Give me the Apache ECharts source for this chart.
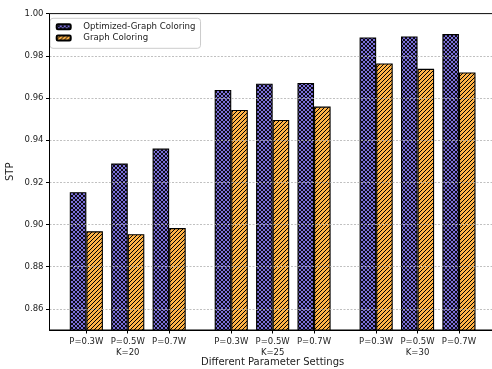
<!DOCTYPE html>
<html>
<head>
<meta charset="utf-8">
<script src="https://cdn.jsdelivr.net/npm/echarts@6/dist/echarts.min.js"></script>
<style>html,body{margin:0;padding:0;background:#fff}#c{width:492px;height:369px}</style>
</head>
<body>
<div id="c"></div>
<script>
// ---- data ----
const groupLabels = ['K=20', 'K=25', 'K=30'];
const powerLabels = ['P=0.3W', 'P=0.5W', 'P=0.7W'];
const optimizedSTP = [0.9153, 0.9289, 0.9360, 0.9638, 0.9668, 0.9671, 0.9887, 0.9892, 0.9903];
const baselineSTP  = [0.8968, 0.8954, 0.8983, 0.9543, 0.9496, 0.9559, 0.9764, 0.9738, 0.9721];
const yTickValues  = [0.86, 0.88, 0.90, 0.92, 0.94, 0.96, 0.98, 1.00];
const seriesNames  = ['Optimized-Graph Coloring', 'Graph Coloring'];

// ---- layout: groups of 3 with 1.5-unit step between groups ----
const groupStep = 3.5;
const positions = [];
const tickText = {};
groupLabels.forEach((g, gi) => {
  powerLabels.forEach((p, pi) => {
    const x = gi * groupStep + pi;
    positions.push(x);
    tickText[x] = pi === 1 ? p + '\n' + g : p;
  });
});

function hatch(base, kind, s, lw) {
  const c = document.createElement('canvas');
  c.width = s; c.height = s;
  const ctx = c.getContext('2d');
  ctx.fillStyle = base;
  ctx.fillRect(0, 0, s, s);
  ctx.strokeStyle = '#000';
  ctx.lineWidth = lw;
  ctx.beginPath();
  ctx.moveTo(-1, s + 1); ctx.lineTo(s + 1, -1);
  ctx.moveTo(-1, 1); ctx.lineTo(1, -1);
  ctx.moveTo(s - 1, s + 1); ctx.lineTo(s + 1, s - 1);
  if (kind === 'x') {
    ctx.moveTo(-1, -1); ctx.lineTo(s + 1, s + 1);
    ctx.moveTo(s - 1, -1); ctx.lineTo(s + 1, 1);
    ctx.moveTo(-1, s - 1); ctx.lineTo(1, s + 1);
  }
  ctx.stroke();
  return { image: c, repeat: 'repeat' };
}

const font = 'DejaVu Sans';
const xMin = -0.89, xMax = 9.89;
const chart = echarts.init(document.getElementById('c'), null, { renderer: 'canvas' });
chart.setOption({
  animation: false,
  backgroundColor: '#fff',
  grid: { left: 49.5, right: -3.8, top: 13.6, bottom: 39, containLabel: false, outerBoundsMode: 'none',
    show: true, borderColor: '#000', borderWidth: 1, backgroundColor: 'transparent' },
  legend: {
    left: 50, top: 18.3, orient: 'vertical',
    itemWidth: 14, itemHeight: 5, itemGap: 1.3,
    padding: [3.4, 5, 5.3, 5.7],
    borderColor: '#ccc', borderWidth: 1, borderRadius: 3,
    textStyle: { fontFamily: font, fontSize: 8.6, lineHeight: 10, color: '#222', padding: [0, 0, 0, 7.6] },
    data: seriesNames
  },
  xAxis: [{
    type: 'value', min: xMin, max: xMax,
    name: 'Different Parameter Settings', nameLocation: 'middle', nameGap: 27, nameMoveOverlap: false,
    nameTextStyle: { fontFamily: font, fontSize: 10, color: '#222' },
    axisLine: { show: true, onZero: false, lineStyle: { color: '#000', width: 1 } },
    axisTick: { show: true, length: 3.5, customValues: positions, lineStyle: { color: '#000' } },
    axisLabel: { customValues: positions, margin: 6, fontFamily: font, fontSize: 8.5, color: '#222', lineHeight: 11,
      formatter: v => tickText[v] !== undefined ? tickText[v] : '' },
    splitLine: { show: false }
  }, {
    type: 'value', min: xMin, max: xMax, position: 'top', z: 10,
    axisLine: { show: true, onZero: false, lineStyle: { color: '#222', width: 1 } },
    axisTick: { show: false }, axisLabel: { show: false }, splitLine: { show: false }
  }],
  yAxis: {
    type: 'value', min: 0.85, max: 1.0, z: 5,
    name: 'STP', nameLocation: 'middle', nameGap: 34.5, nameMoveOverlap: false,
    nameTextStyle: { fontFamily: font, fontSize: 10, color: '#222' },
    axisLine: { show: true, onZero: false, lineStyle: { color: '#000', width: 1 } },
    axisTick: { show: true, length: 3.5, customValues: yTickValues, lineStyle: { color: '#000' } },
    axisLabel: { customValues: yTickValues, margin: 6, fontFamily: font, fontSize: 8.5, color: '#222',
      formatter: v => v.toFixed(2) },
    splitLine: { show: true, lineStyle: { color: '#b0b0b0', type: [2, 1.5], width: 0.8 } }
  },
  series: [
    {
      name: seriesNames[0], type: 'bar', barWidth: '40%', barGap: '0%', xAxisIndex: 0,
      itemStyle: { color: hatch('#7B6FDA', 'x', 4, 0.9), borderColor: '#000', borderWidth: 1.1 },
      data: positions.map((x, i) => [x, optimizedSTP[i]])
    },
    {
      name: seriesNames[1], type: 'bar', barWidth: '40%', barGap: '0%', xAxisIndex: 0,
      itemStyle: { color: hatch('#FFB347', '/', 4, 1.0), borderColor: '#000', borderWidth: 1.1 },
      data: positions.map((x, i) => [x, baselineSTP[i]])
    }
  ]
});
</script>
</body>
</html>
